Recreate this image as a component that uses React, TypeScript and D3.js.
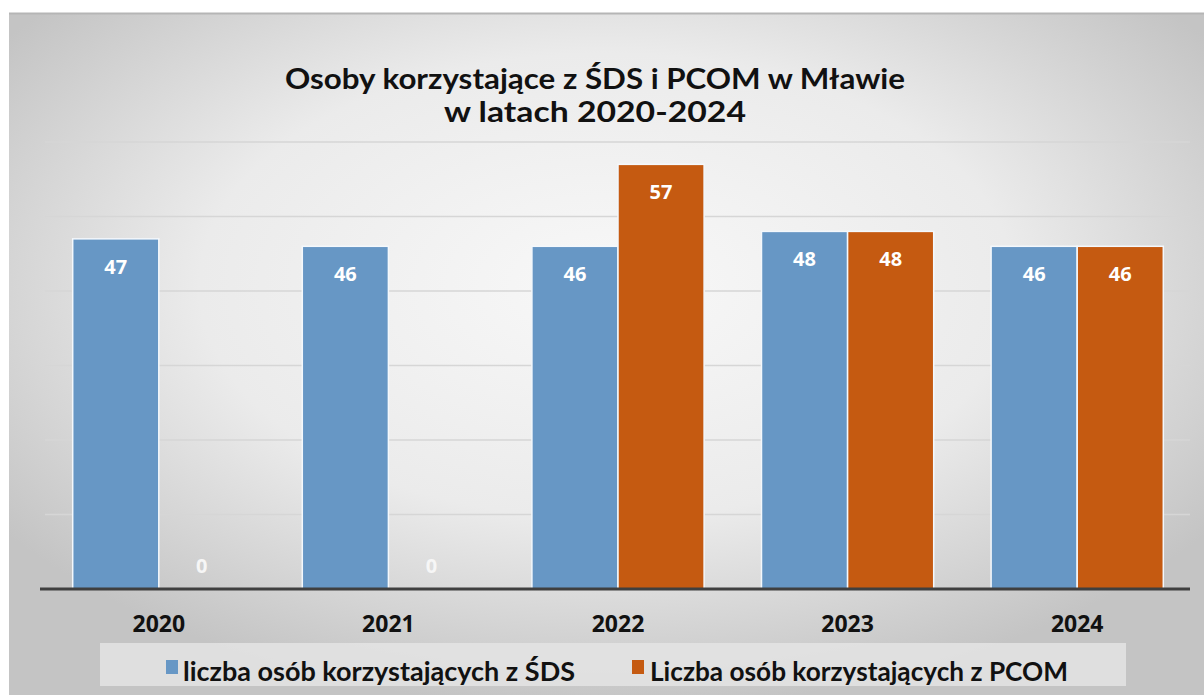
import React, { useEffect, useRef } from 'react';
import * as d3 from 'd3';

const years = ['2020', '2021', '2022', '2023', '2024'];
const sdsValues = [47, 46, 46, 48, 46];
const pcomValues = [0, 0, 57, 48, 46];
const seriesNames = ['liczba osób korzystających z ŚDS', 'Liczba osób korzystających z PCOM'];
const seriesColors = ['#6797C5', '#C55A11'];
const titleLines = ['Osoby korzystające z ŚDS i PCOM w Mławie', 'w latach 2020-2024'];

const W = 1204;
const H = 695;

const App = () => {
  const ref = useRef<SVGSVGElement | null>(null);

  useEffect(() => {
    if (!ref.current) return;
    const svg = d3.select(ref.current);
    svg.selectAll('*').remove();

    const defs = svg.append('defs');
    const grad = defs.append('radialGradient')
      .attr('id', 'bg')
      .attr('cx', '50%').attr('cy', '40%').attr('r', '62%');
    grad.append('stop').attr('offset', '0%').attr('stop-color', '#f8f8f8');
    grad.append('stop').attr('offset', '55%').attr('stop-color', '#ebebeb');
    grad.append('stop').attr('offset', '100%').attr('stop-color', '#c4c4c4');

    // chart background
    svg.append('rect').attr('x', 9).attr('y', 13).attr('width', W - 9).attr('height', H - 13)
      .attr('fill', 'url(#bg)');
    svg.append('line').attr('x1', 9).attr('x2', W).attr('y1', 13.5).attr('y2', 13.5)
      .attr('stroke', '#b5b5b5').attr('stroke-width', 2);

    const x0 = d3.scaleBand().domain(years).range([44, 1192]).paddingInner(0.25).paddingOuter(0.125);
    const x1 = d3.scaleBand().domain(['sds', 'pcom']).range([0, x0.bandwidth()]);
    const y = d3.scaleLinear().domain([0, 60]).range([589, 142]);

    // gridlines
    svg.append('g')
      .selectAll('line')
      .data(y.ticks(6).filter(d => d > 0))
      .join('line')
      .attr('x1', 45).attr('x2', 1190)
      .attr('y1', d => y(d)).attr('y2', d => y(d))
      .attr('stroke', '#d6d6d6').attr('stroke-width', 1.5);

    const rows = years.map((yr, i) => ({ yr, vals: [sdsValues[i], pcomValues[i]] }));
    const groups = svg.append('g').selectAll('g').data(rows).join('g')
      .attr('transform', d => `translate(${x0(d.yr)},0)`);

    groups.selectAll('rect')
      .data(d => d.vals.map((v, k) => ({ v, k })))
      .join('rect')
      .attr('x', d => x1(d.k === 0 ? 'sds' : 'pcom')!)
      .attr('width', x1.bandwidth())
      .attr('y', d => y(d.v))
      .attr('height', d => y(0) - y(d.v))
      .attr('fill', d => seriesColors[d.k])
      .attr('stroke', d => d.v > 0 ? '#f4f8fc' : 'none')
      .attr('stroke-width', 1.5);

    groups.selectAll('text')
      .data(d => d.vals.map((v, k) => ({ v, k })))
      .join('text')
      .attr('x', d => x1(d.k === 0 ? 'sds' : 'pcom')! + x1.bandwidth() / 2)
      .attr('y', d => d.v > 0 ? y(d.v) + 35 : y(0) - 16)
      .attr('text-anchor', 'middle')
      .attr('font-family', '"Open Sans", sans-serif')
      .attr('font-weight', 700)
      .attr('font-size', 20)
      .attr('fill', d => d.v > 0 ? '#ffffff' : '#f6f6f6')
      .text(d => d.v);

    // axis
    const axis = svg.append('g').attr('transform', `translate(0,${y(0)})`)
      .call(d3.axisBottom(x0).tickSize(0));
    axis.select('.domain').remove();
    axis.append('line').attr('x1', 40).attr('x2', 1190).attr('y1', 0).attr('y2', 0)
      .attr('stroke', '#3f3f3f').attr('stroke-width', 3);
    axis.selectAll('.tick text')
      .attr('y', 43).attr('dy', 0)
      .attr('font-family', '"Open Sans", sans-serif')
      .attr('font-weight', 700)
      .attr('font-size', 23)
      .attr('fill', '#111');

    // title
    const titleWidths = [620, 302];
    svg.append('g').selectAll('text').data(titleLines).join('text')
      .attr('x', 595).attr('y', (d, i) => 89 + i * 33)
      .attr('text-anchor', 'middle')
      .attr('font-family', 'Lato, sans-serif')
      .attr('font-weight', 700)
      .attr('font-size', 28)
      .attr('textLength', (d, i) => titleWidths[i])
      .attr('lengthAdjust', 'spacingAndGlyphs')
      .attr('fill', '#111')
      .text(d => d);

    // legend
    svg.append('rect').attr('x', 100).attr('y', 643).attr('width', 1026).attr('height', 43)
      .attr('fill', '#e4e4e4').attr('opacity', 0.85);
    const legX = [166, 632];
    const legW = [392, 418];
    const leg = svg.append('g').selectAll('g').data(seriesNames).join('g')
      .attr('transform', (d, i) => `translate(${legX[i]},667)`);
    leg.append('rect').attr('x', 0).attr('y', -7).attr('width', 12).attr('height', 14)
      .attr('fill', (d, i) => seriesColors[i]);
    leg.append('text').attr('x', (d, i) => (i === 0 ? 17 : 18)).attr('y', 14)
      .attr('font-family', 'Lato, sans-serif')
      .attr('font-weight', 700)
      .attr('font-size', 26)
      .attr('textLength', (d, i) => legW[i])
      .attr('lengthAdjust', 'spacingAndGlyphs')
      .attr('fill', '#111')
      .text(d => d);
  }, []);

  return (
    <svg ref={ref} width={W} height={H}
      style={{ position: 'absolute', left: 0, top: 0, background: '#fff' }} />
  );
};

export default App;
